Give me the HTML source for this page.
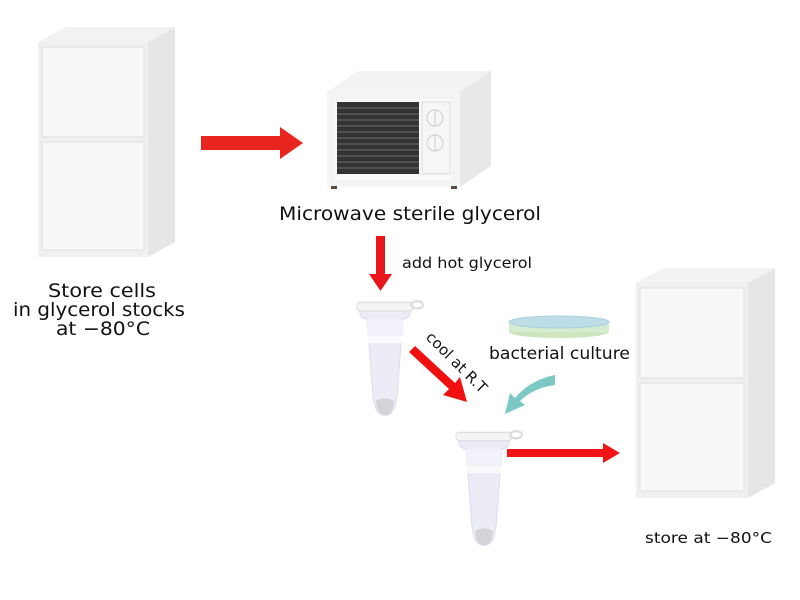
<!DOCTYPE html>
<html><head><style>
body{margin:0;width:800px;height:600px;background:#fff;overflow:hidden}
svg{display:block}
text{font-family:"DejaVu Sans","Liberation Sans",sans-serif;fill:#111}
</style></head><body>
<svg width="800" height="600" viewBox="0 0 800 600">
<defs>
<g id="tube">
<path d="M2 8 L54 8 L52 14 L46 16 L40 80 Q38 96 28 96 Q18 96 16 80 L10 16 L4 14 Z" fill="#ececf7" stroke="#dcdcee"/>
<path d="M10 16 L46 16 L45 30 L11 30 Z" fill="#f2f2fb"/>
<rect x="11" y="30" width="34" height="6" fill="#fafafa"/>
<path d="M19 84 Q28 80 37 84 Q36 96 28 96 Q20 96 19 84 Z" fill="#d4d4d8"/>
<rect x="0" y="2" width="56" height="7" rx="3" fill="#f4f4f4" stroke="#ddd"/>
<ellipse cx="60" cy="4" rx="6" ry="3" fill="none" stroke="#ddd" stroke-width="2"/>
</g>
</defs>
<g>
<path d="M38 42 L66 27 L175 27 L148 42 Z" fill="#f2f2f2"/>
<path d="M148 42 L175 27 L175 242 L148 257 Z" fill="#e6e6e6"/>
<rect x="38" y="42" width="110" height="215" fill="#f0f0f0"/>
<rect x="42" y="47" width="102" height="90" fill="#f8f8f8" stroke="#e0e0e0"/>
<rect x="42" y="142" width="102" height="108" fill="#f8f8f8" stroke="#e0e0e0"/>
</g>
<g>
<path d="M636 283 L664 268 L775 268 L748 283 Z" fill="#f2f2f2"/>
<path d="M748 283 L775 268 L775 483 L748 498 Z" fill="#e6e6e6"/>
<rect x="636" y="283" width="112" height="215" fill="#f0f0f0"/>
<rect x="640" y="288" width="104" height="90" fill="#f8f8f8" stroke="#e0e0e0"/>
<rect x="640" y="383" width="104" height="108" fill="#f8f8f8" stroke="#e0e0e0"/>
</g>
<g>
<path d="M327 92 L358 71 L491 71 L460 92 Z" fill="#f3f3f3"/>
<path d="M460 92 L491 71 L491 166 L460 187 Z" fill="#e8e8e8"/>
<rect x="327" y="92" width="133" height="95" fill="#f5f5f5"/>
<rect x="333" y="98" width="120" height="84" fill="#f9f9f9" stroke="#eee"/>
<rect x="337" y="102" width="82" height="72" fill="#333"/>
<g stroke="#5a5a5a" stroke-width="1.5">
<line x1="337" y1="108" x2="419" y2="108"/><line x1="337" y1="114" x2="419" y2="114"/><line x1="337" y1="120" x2="419" y2="120"/><line x1="337" y1="126" x2="419" y2="126"/><line x1="337" y1="132" x2="419" y2="132"/><line x1="337" y1="138" x2="419" y2="138"/><line x1="337" y1="144" x2="419" y2="144"/><line x1="337" y1="150" x2="419" y2="150"/><line x1="337" y1="156" x2="419" y2="156"/><line x1="337" y1="162" x2="419" y2="162"/><line x1="337" y1="168" x2="419" y2="168"/>
</g>
<rect x="422" y="102" width="28" height="72" fill="#f6f6f6" stroke="#ddd"/>
<circle cx="435" cy="118" r="8" fill="none" stroke="#ccc"/><line x1="435" y1="110" x2="435" y2="126" stroke="#ccc"/>
<circle cx="435" cy="143" r="8" fill="none" stroke="#ccc"/><line x1="435" y1="135" x2="435" y2="151" stroke="#ccc"/>
<rect x="331" y="186" width="6" height="3" fill="#5a4a40"/><rect x="451" y="186" width="6" height="3" fill="#5a4a40"/>
</g>
<path d="M201 136 L280 136 L280 127 L303 143 L280 159 L280 150 L201 150 Z" fill="#e8251f"/>
<path d="M376 236 L385 236 L385 274 L392 274 L380.5 291 L369 274 L376 274 Z" fill="#e8151a"/>
<path d="M415 346 L455 383 L460 377 L467 402 L443 395 L449 389 L409 352 Z" fill="#f01010"/>
<path d="M507 449 L603 449 L603 443 L620 453 L603 463 L603 457 L507 457 Z" fill="#f21515"/>
<path d="M555 375 Q530 380 515 398 L510 393 L505 414 L525 405 L520 401 Q533 388 555 385 Z" fill="#7cc8c4"/>
<g>
<ellipse cx="559" cy="332" rx="50" ry="6" fill="#cfe5c2"/>
<rect x="509" y="322" width="100" height="10" fill="#d6ecd0"/>
<ellipse cx="559" cy="322" rx="50" ry="6" fill="#bfdde8" stroke="#a6cfdf"/>
</g>
<use href="#tube" transform="translate(357,300) scale(1,1.2)"/>
<use href="#tube" transform="translate(456,430) scale(1,1.2)"/>
<text x="279" y="220" font-size="19" textLength="262" lengthAdjust="spacingAndGlyphs">Microwave sterile glycerol</text>
<text x="402" y="268" font-size="15" textLength="130" lengthAdjust="spacingAndGlyphs">add hot glycerol</text>
<text x="489" y="359" font-size="17" textLength="141" lengthAdjust="spacingAndGlyphs">bacterial culture</text>
<text x="0" y="0" font-size="15" transform="translate(425,338) rotate(45)">cool at R.T</text>
<g font-size="19">
<text x="48" y="297" textLength="108" lengthAdjust="spacingAndGlyphs">Store cells</text>
<text x="13" y="316" textLength="172" lengthAdjust="spacingAndGlyphs">in glycerol stocks</text>
<text x="56" y="335" textLength="94" lengthAdjust="spacingAndGlyphs">at −80°C</text>
</g>
<text x="645" y="543" font-size="15" textLength="127" lengthAdjust="spacingAndGlyphs">store at  −80°C</text>
</svg>
</body></html>
